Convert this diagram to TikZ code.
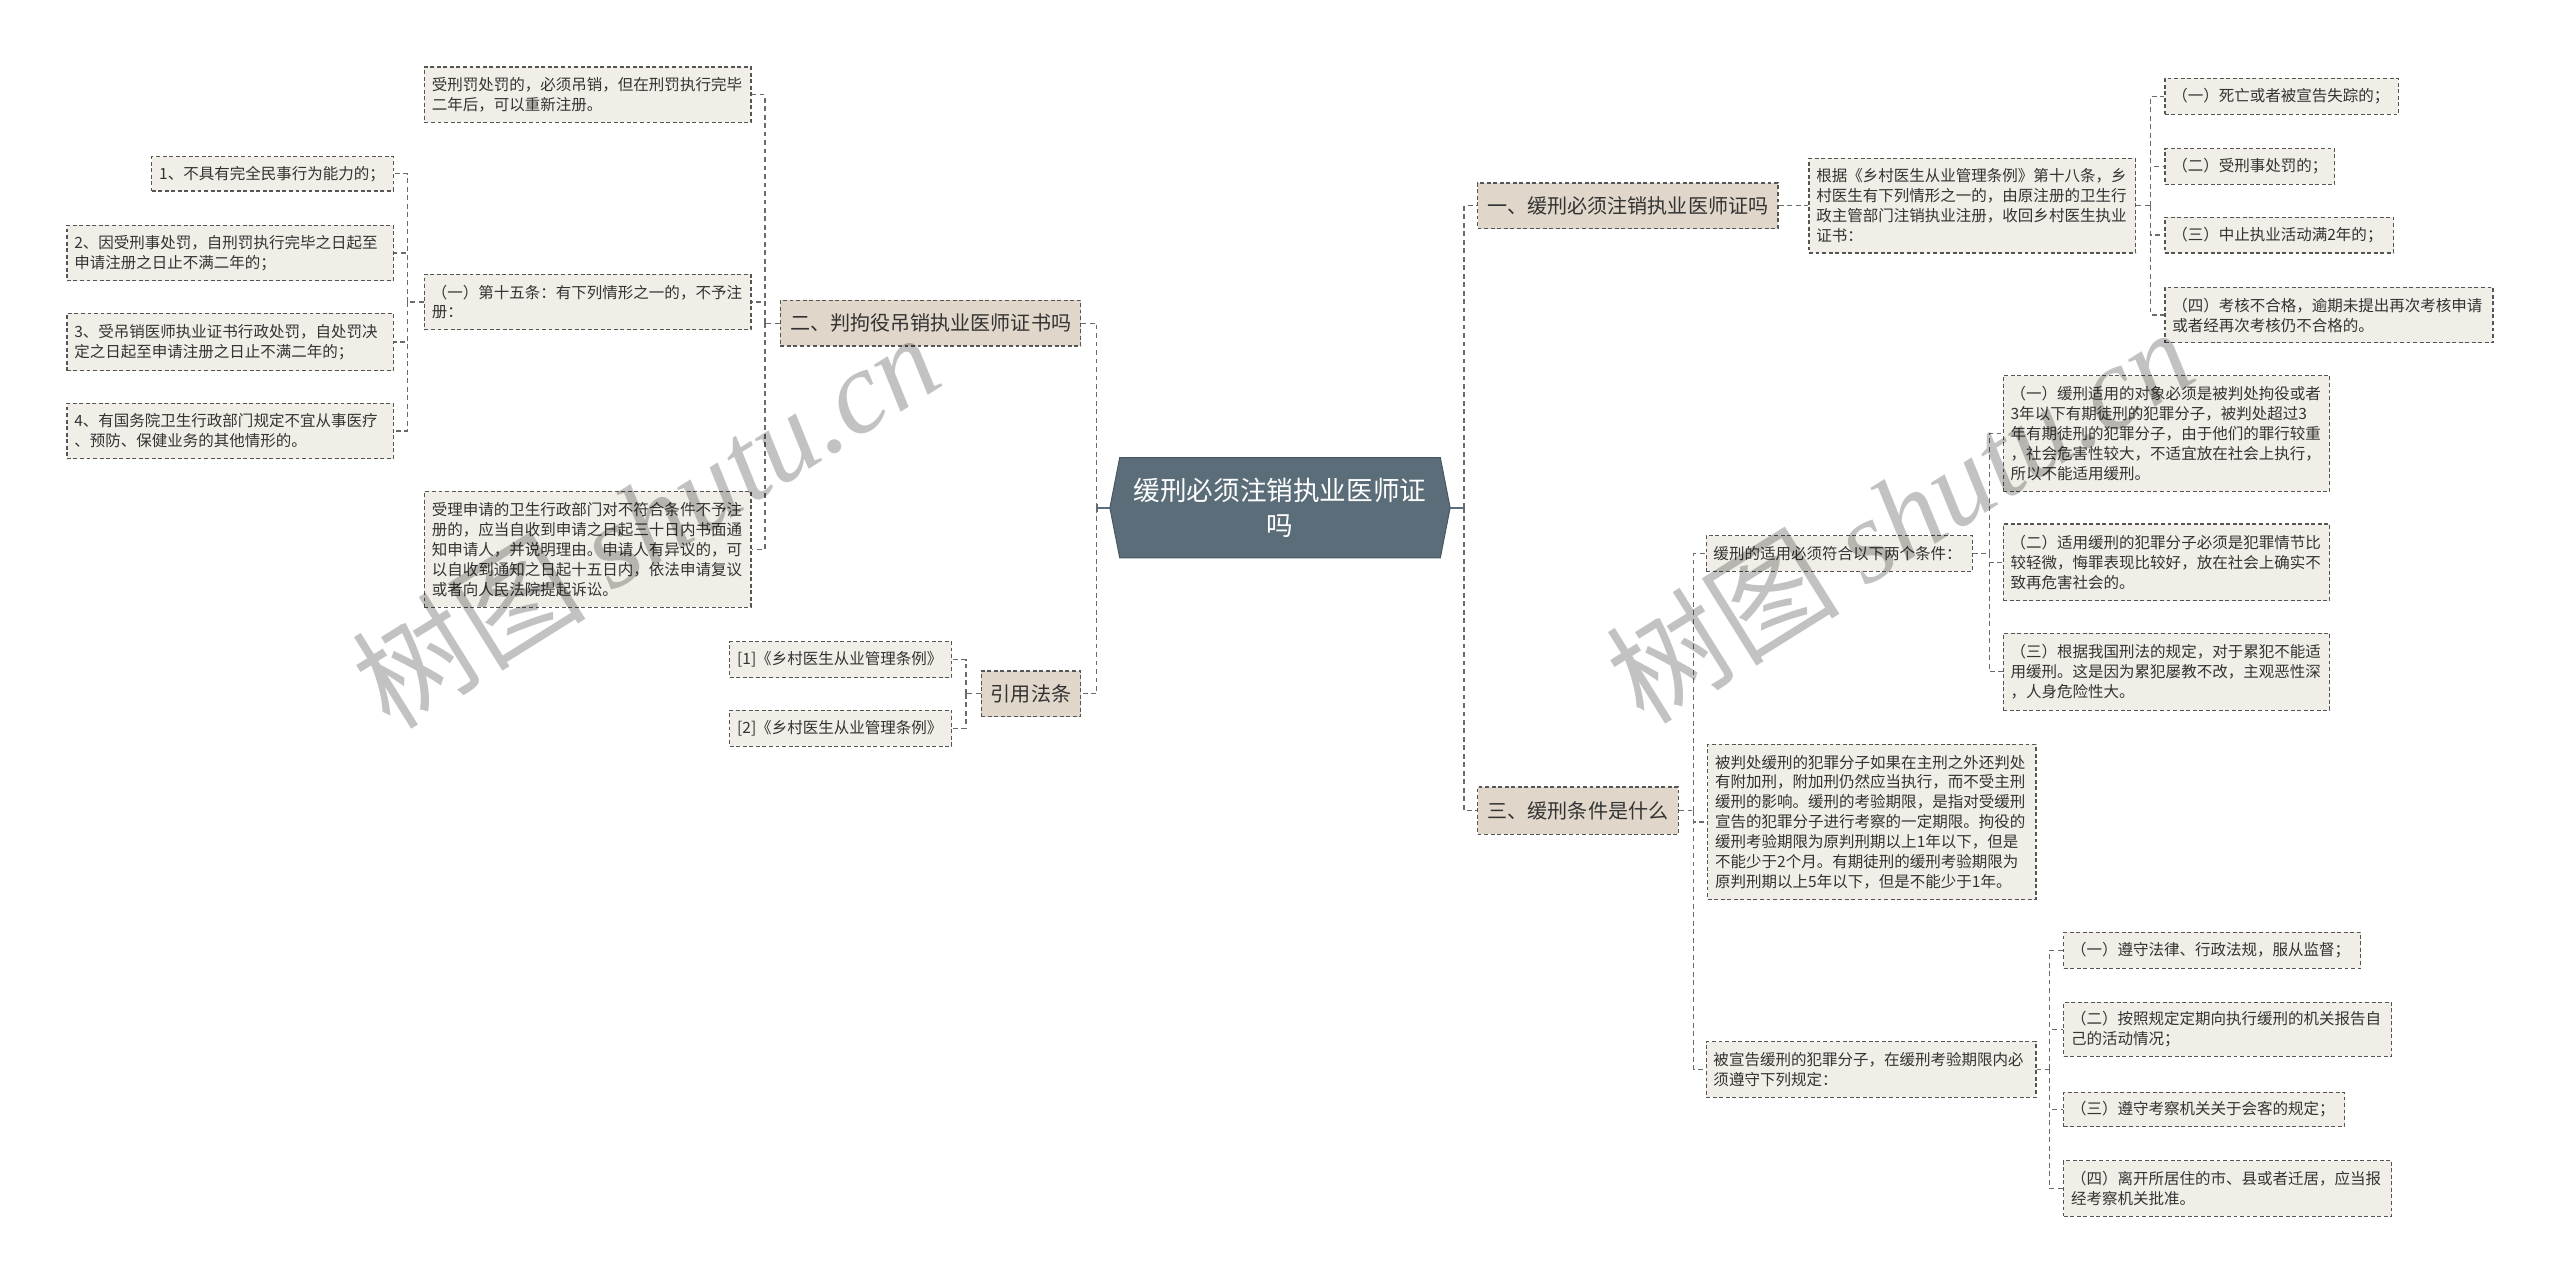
\documentclass[tikz,border=0pt]{standalone}
\usepackage{fontspec}
\setmainfont{Noto Sans CJK SC}
\newfontfamily\wmlatin{Liberation Serif}
\usetikzlibrary{calc,backgrounds}
\definecolor{lvlone}{HTML}{E0D7CA}
\definecolor{lvltwo}{HTML}{F1EEE7}
\definecolor{bordc}{HTML}{555555}
\definecolor{connc}{HTML}{6A6A6A}
\definecolor{centc}{HTML}{5B6D79}
\definecolor{txtc}{HTML}{333333}
\tikzset{
 box/.style={draw=bordc, line width=0.75pt, dash pattern=on 2.4pt off 1.6pt, fill=lvltwo, text=txtc, inner xsep=4.5pt, inner ysep=0pt, align=left, font=\fontsize{9.5}{12.2}\selectfont},
 topbox/.style={draw=bordc, line width=0.8pt, dash pattern=on 2.4pt off 1.6pt, fill=lvlone, text=txtc, inner sep=0pt, align=center, font=\fontsize{12.3}{14}\selectfont},
 conn/.style={draw=connc, line width=0.75pt, dash pattern=on 3pt off 2.2pt},
 stub/.style={draw=centc, line width=1pt},
 wm/.style={text=black, text opacity=0.24, font=\fontsize{72}{74}\selectfont, inner sep=0pt},
}
\newcommand\lb[6]{\pgfmathsetmacro\lbw{#4-#2}\pgfmathsetmacro\lbh{#5-#3}\pgfmathsetmacro\lbt{#4-#2-9}\pgfmathsetmacro\lbx{(#2+#4)/2}\pgfmathsetmacro\lby{(#3+#5)/2}\node[box,minimum width=\lbw pt,minimum height=\lbh pt,text width=\lbt pt] (#1) at (\lbx,\lby) {#6};}
\newcommand\tb[6]{\pgfmathsetmacro\lbw{#4-#2}\pgfmathsetmacro\lbh{#5-#3}\pgfmathsetmacro\lbx{(#2+#4)/2}\pgfmathsetmacro\lby{(#3+#5)/2}\node[topbox,minimum width=\lbw pt,minimum height=\lbh pt] (#1) at (\lbx,\lby) {#6};}
\begin{document}
\begin{tikzpicture}[x=1pt,y=-1pt]
\useasboundingbox (0,0) rectangle (1568,786);

% central node
\node[text=white, font=\fontsize{16.3}{21.4}\selectfont, align=center, minimum width=208pt, minimum height=61pt, inner sep=0pt] (c) at (784,311) {缓刑必须注销执业医师证\\吗};
\begin{pgfonlayer}{background}
\fill[white] (0,0) rectangle (1568,786);
\filldraw[fill=centc, draw=centc!80!black, line width=0.6pt] ($(c.north west)+(6,0)$) -- ($(c.north east)+(-6,0)$) -- (c.east) -- ($(c.south east)+(-6,0)$) -- ($(c.south west)+(6,0)$) -- (c.west) -- cycle;
\end{pgfonlayer}

% left side
\tb{n2}{478}{184}{662}{212}{二、判拘役吊销执业医师证书吗}
\lb{n2a}{260}{41}{460}{75}{受刑罚处罚的，必须吊销，但在刑罚执行完毕\\二年后，可以重新注册。}
\lb{n2b}{260}{168}{460}{202}{（一）第十五条：有下列情形之一的，不予注\\册：}
\lb{n2c}{260}{301}{460}{372}{受理申请的卫生行政部门对不符合条件不予注\\册的，应当自收到申请之日起三十日内书面通\\知申请人，并说明理由。申请人有异议的，可\\以自收到通知之日起十五日内，依法申请复议\\或者向人民法院提起诉讼。}
\lb{n2b1}{93}{96}{241}{117}{1、不具有完全民事行为能力的；}
\lb{n2b2}{41}{138}{241}{172}{2、因受刑事处罚，自刑罚执行完毕之日起至\\申请注册之日止不满二年的；}
\lb{n2b3}{41}{192}{241}{227}{3、受吊销医师执业证书行政处罚，自处罚决\\定之日起至申请注册之日止不满二年的；}
\lb{n2b4}{41}{247}{241}{281}{4、有国务院卫生行政部门规定不宜从事医疗\\、预防、保健业务的其他情形的。}
\tb{n7}{601}{411}{662}{439}{引用法条}
\lb{n7a}{447}{393}{583}{415}{[1]《乡村医生从业管理条例》}
\lb{n7b}{447}{435}{583}{457}{[2]《乡村医生从业管理条例》}

% right side
\tb{n1}{905}{112}{1089}{140}{一、缓刑必须注销执业医师证吗}
\lb{n1a}{1108}{97}{1308}{155}{根据《乡村医生从业管理条例》第十八条，乡\\村医生有下列情形之一的，由原注册的卫生行\\政主管部门注销执业注册，收回乡村医生执业\\证书：}
\lb{n1a1}{1326}{48}{1469}{70}{（一）死亡或者被宣告失踪的；}
\lb{n1a2}{1326}{91}{1430}{113}{（二）受刑事处罚的；}
\lb{n1a3}{1326}{133}{1466}{155}{（三）中止执业活动满2年的；}
\lb{n1a4}{1326}{176}{1527}{210}{（四）考核不合格，逾期未提出再次考核申请\\或者经再次考核仍不合格的。}
\tb{n3}{905}{482}{1028}{511}{三、缓刑条件是什么}
\lb{n3a}{1045}{328}{1208}{350}{缓刑的适用必须符合以下两个条件：}
\lb{n3a1}{1227}{230}{1427}{301}{（一）缓刑适用的对象必须是被判处拘役或者\\3年以下有期徒刑的犯罪分子，被判处超过3\\年有期徒刑的犯罪分子，由于他们的罪行较重\\，社会危害性较大，不适宜放在社会上执行，\\所以不能适用缓刑。}
\lb{n3a2}{1227}{321}{1427}{368}{（二）适用缓刑的犯罪分子必须是犯罪情节比\\较轻微，悔罪表现比较好，放在社会上确实不\\致再危害社会的。}
\lb{n3a3}{1227}{388}{1427}{435}{（三）根据我国刑法的规定，对于累犯不能适\\用缓刑。这是因为累犯屡教不改，主观恶性深\\，人身危险性大。}
\lb{n3b}{1046}{456}{1247}{551}{被判处缓刑的犯罪分子如果在主刑之外还判处\\有附加刑，附加刑仍然应当执行，而不受主刑\\缓刑的影响。缓刑的考验期限，是指对受缓刑\\宣告的犯罪分子进行考察的一定期限。拘役的\\缓刑考验期限为原判刑期以上1年以下，但是\\不能少于2个月。有期徒刑的缓刑考验期限为\\原判刑期以上5年以下，但是不能少于1年。}
\lb{n3c}{1045}{638}{1247}{672}{被宣告缓刑的犯罪分子，在缓刑考验期限内必\\须遵守下列规定：}
\lb{n3c1}{1264}{571}{1446}{593}{（一）遵守法律、行政法规，服从监督；}
\lb{n3c2}{1264}{614}{1465}{647}{（二）按照规定定期向执行缓刑的机关报告自\\己的活动情况；}
\lb{n3c3}{1264}{669}{1436}{690}{（三）遵守考察机关关于会客的规定；}
\lb{n3c4}{1264}{711}{1465}{745}{（四）离开所居住的市、县或者迁居，应当报\\经考察机关批准。}

% connectors from center
\draw[stub] (c.west) -- ++(-8,0) coordinate (cl);
\draw[stub] ($(cl)+(0,-2.5)$) -- ($(cl)+(0,2.5)$);
\draw[conn] (cl) |- (n2.east);
\draw[conn] (cl) |- (n7.east);
\draw[stub] (c.east) -- ++(8.5,0) coordinate (cr);
\draw[stub] ($(cr)+(0,-2.5)$) -- ($(cr)+(0,2.5)$);
\draw[conn] (cr) |- (n1.west);
\draw[conn] (cr) |- (n3.west);

% left subtree
\draw[conn] (n2.west) -- ++(-9,0) coordinate (b2);
\draw[conn] (b2) |- (n2a.east);
\draw[conn] (b2) |- (n2b.east);
\draw[conn] (b2) |- (n2c.east);
\draw[conn] (n2b.west) -- ++(-10,0) coordinate (b2b);
\draw[conn] (b2b) |- (n2b1.east);
\draw[conn] (b2b) |- (n2b2.east);
\draw[conn] (b2b) |- (n2b3.east);
\draw[conn] (b2b) |- (n2b4.east);
\draw[conn] (n7.west) -- ++(-9,0) coordinate (b7);
\draw[conn] (b7) |- (n7a.east);
\draw[conn] (b7) |- (n7b.east);

% right subtree
\draw[conn] (n1.east) -- (n1a.west);
\draw[conn] (n1a.east) -- ++(9,0) coordinate (b1a);
\draw[conn] (b1a) |- (n1a1.west);
\draw[conn] (b1a) |- (n1a2.west);
\draw[conn] (b1a) |- (n1a3.west);
\draw[conn] (b1a) |- (n1a4.west);
\draw[conn] (n3.east) -- ++(9,0) coordinate (b3);
\draw[conn] (b3) |- (n3a.west);
\draw[conn] (b3) |- (n3b.west);
\draw[conn] (b3) |- (n3c.west);
\draw[conn] (n3a.east) -- ++(10,0) coordinate (b3a);
\draw[conn] (b3a) |- (n3a1.west);
\draw[conn] (b3a) |- (n3a2.west);
\draw[conn] (b3a) |- (n3a3.west);
\draw[conn] (n3c.east) -- ++(8,0) coordinate (b3c);
\draw[conn] (b3c) |- (n3c1.west);
\draw[conn] (b3c) |- (n3c2.west);
\draw[conn] (b3c) |- (n3c3.west);
\draw[conn] (b3c) |- (n3c4.west);

% watermarks
\node[wm, rotate=32] (wm1) at (395,318) {树图 {\wmlatin\itshape shutu.cn}};
\node[wm, rotate=32] (wm2) at (1163,315) {树图 {\wmlatin\itshape shutu.cn}};
\end{tikzpicture}
\end{document}
